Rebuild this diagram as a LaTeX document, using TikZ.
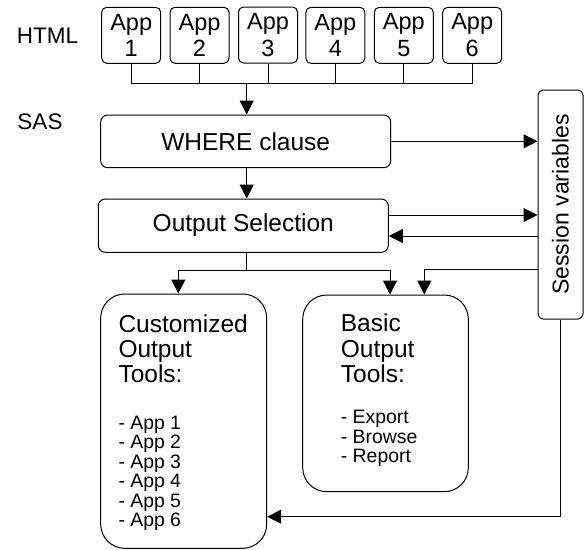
\documentclass[tikz,border=0pt]{standalone}
\usepackage{fontspec}
\setmainfont{Liberation Sans}
\usetikzlibrary{arrows.meta}
\begin{document}
\begin{tikzpicture}[x=1pt,y=-1pt,
  line/.style={draw=black, line width=1pt},
  arr/.style={line, -{Triangle[length=14pt,width=14pt]}},
  appbox/.style={draw, line width=1pt, rounded corners=5pt, minimum width=59pt,
    minimum height=56pt, inner sep=0pt, align=center,
    font=\fontsize{23.5}{26.7}\selectfont},
  stepbox/.style={draw, line width=1pt, rounded corners=7pt, inner sep=0pt,
    font=\fontsize{24.5}{26}\selectfont},
  bigbox/.style={draw, line width=1pt, rounded corners=24pt, inner sep=0pt},
  lbl/.style={inner sep=0pt, font=\fontsize{22.5}{24}\selectfont},
  txt/.style={anchor=base west, inner sep=0pt}
]
\useasboundingbox (0,0) rectangle (585,549);

% labels
\node[lbl] (html) at (47.5,35.5) {HTML};
\node[lbl] (sas) at (40,121.5) {SAS};

% app boxes
\node[appbox] (a1) at (131.2,35.3) {App\\1};
\node[appbox] (a2) at (199.5,35.3) {App\\2};
\node[appbox] (a3) at (268.0,35.0) {App\\3};
\node[appbox] (a4) at (335.4,35.3) {App\\4};
\node[appbox] (a5) at (403.8,35.3) {App\\5};
\node[appbox] (a6) at (472.2,35.3) {App\\6};

% main steps
\node[stepbox, minimum width=290pt, minimum height=52.7pt] (where) at (245.7,141.35) {WHERE clause};
\node[stepbox, minimum width=290pt, minimum height=53.3pt] (out) at (243.3,225.65) {Output Selection};
\node[draw, line width=1pt, rounded corners=5pt, inner sep=0pt,
  minimum width=229pt, minimum height=45pt, rotate=90,
  font=\fontsize{23}{25}\selectfont] (sess) at (560.5,204.5) {Session variables};

% output tool boxes
\node[bigbox, minimum width=166pt, minimum height=254.3pt] (cust) at (183.7,421.15) {};
\node[bigbox, minimum width=165.6pt, minimum height=196.7pt] (basic) at (385.5,393.35) {};

\node[txt] (custtitle) at (118.3,332.7) {\begin{minipage}[t]{146pt}\fontsize{24.5}{24.7}\selectfont Customized\\Output\\Tools:\end{minipage}};
\node[txt] (custlist) at (118.3,429) {\begin{minipage}[t]{146pt}\fontsize{19.4}{19.54}\selectfont - App 1\\- App 2\\- App 3\\- App 4\\- App 5\\- App 6\end{minipage}};
\node[txt] (basictitle) at (340.7,331.7) {\begin{minipage}[t]{120pt}\fontsize{24.5}{25.5}\selectfont Basic\\Output\\Tools:\end{minipage}};
\node[txt] (basiclist) at (340.7,423.3) {\begin{minipage}[t]{120pt}\fontsize{19.4}{19.7}\selectfont - Export\\- Browse\\- Report\end{minipage}};

% helper coordinates
\coordinate (bus) at (246.7,83.3);
\coordinate (split) at (246.7,270.7);
\coordinate (cL) at (178.3,0);
\coordinate (bL) at (390,0);
\coordinate (bR) at (424.3,0);
\coordinate (y215) at (0,215);
\coordinate (y236) at (0,236);
\coordinate (y269) at (0,269.3);
\coordinate (y517) at (0,516.7);

% app bus
\draw[line] (a1.south) |- (a6.south |- bus) -- (a6.south);
\draw[line] (a2.south) -- (a2.south |- bus);
\draw[line] (a3.south) -- (a3.south |- bus);
\draw[line] (a4.south) -- (a4.south |- bus);
\draw[line] (a5.south) -- (a5.south |- bus);
\draw[arr] (bus) -- (bus |- where.north);

% flow
\draw[arr] (bus |- where.south) -- (bus |- out.north);
\draw[arr] (where.east) -- (where.east -| sess.north);
\draw[arr] (out.east |- y215) -- (sess.north |- y215);
\draw[arr] (sess.north |- y236) -- (out.east |- y236);
\draw[line] (bus |- out.south) -- (split);
\draw[arr] (split) -| (cust.north -| cL);
\draw[arr] (split) -| (basic.north -| bL);
\draw[arr] (sess.north |- y269) -| (basic.north -| bR);
\draw[arr] (sess.west) |- (cust.east |- y517);
\end{tikzpicture}
\end{document}
